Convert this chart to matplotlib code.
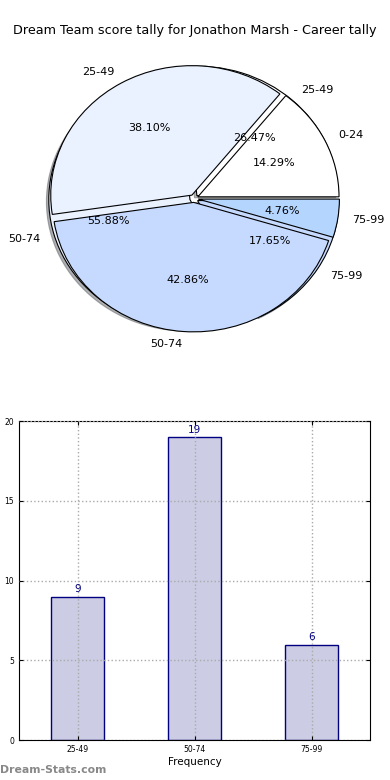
import matplotlib
matplotlib.use("Agg")
import matplotlib.pyplot as plt

# career tally (all scores)
career_labels = ['0-24', '25-49', '50-74', '75-99']
career_counts = [3, 8, 9, 1]
career_colors = ['#ffffff', '#ebf2ff', '#c6d9fe', '#b4d5fe']

# frequency tally
freq_labels = ['25-49', '50-74', '75-99']
freq_counts = [9, 19, 6]
freq_colors = ['#ffffff', '#ebf2ff', '#c6d9fe']

fig = plt.figure(figsize=(3.9, 7.8), dpi=100)
fig.text(0.5, 0.961, 'Dream Team score tally for Jonathon Marsh - Career tally',
         ha='center', va='center', fontsize=9.2)

# pies, one over the other
ax1 = fig.add_axes([0.045, 0.538, 0.905, 0.415])
wedge_kw = dict(edgecolor='black', linewidth=0.8)
ax1.pie(freq_counts, labels=freq_labels, colors=freq_colors, autopct='%.2f%%',
        explode=[0.03] * len(freq_counts),
        shadow={'ox': -0.012, 'oy': -0.012, 'shade': 0.6},
        wedgeprops=wedge_kw, textprops=dict(fontsize=8))
ax1.pie(career_counts, labels=career_labels, colors=career_colors, autopct='%.2f%%',
        explode=[0.03] * len(career_counts), wedgeprops=wedge_kw,
        textprops=dict(fontsize=8))
ax1.set_aspect('auto')
ax1.set_xlim(-1.25, 1.25)
ax1.set_ylim(-1.25, 1.25)

# bar chart
ax2 = fig.add_axes([0.049, 0.051, 0.9, 0.409])
x = range(len(freq_labels))
ax2.bar(x, freq_counts, width=0.45, color='#ccccE4', edgecolor='navy', linewidth=1)
for i, v in zip(x, freq_counts):
    ax2.text(i, v + 0.15, str(v), ha='center', va='bottom', color='navy', fontsize=7.5)
ax2.set_xlim(-0.5, 2.5)
ax2.set_ylim(0, 20)
ax2.set_xticks(list(x))
ax2.set_xticklabels(freq_labels)
ax2.set_yticks([0, 5, 10, 15, 20])
ax2.tick_params(direction='in', labelsize=5.5, length=3, top=True, right=True)
ax2.grid(True, linestyle=':', color='#aaaaaa', linewidth=1)
ax2.set_axisbelow(False)
ax2.set_xlabel('Frequency', fontsize=7.5, labelpad=2)
ax2.set_ylabel('Score Interval', fontsize=7)
ax2.yaxis.set_label_coords(-0.058, 0.5)

fig.text(0.0, 0.013, 'Dream-Stats.com', fontsize=7.8, color='#888888',
         fontweight='bold', ha='left', va='center')

fig.savefig('out.png', dpi=100)
